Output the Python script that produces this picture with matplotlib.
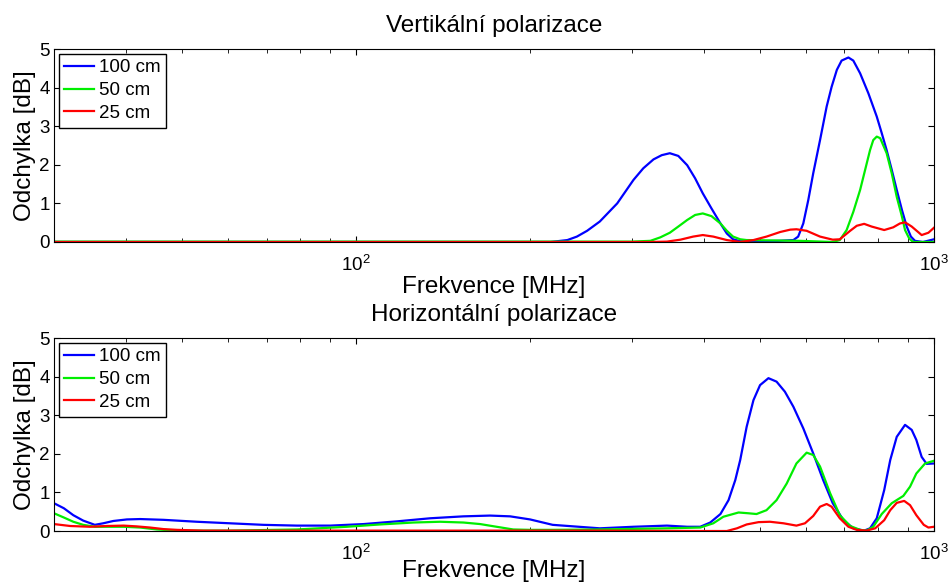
import numpy as np
import matplotlib
matplotlib.use('Agg')
import matplotlib.pyplot as plt

plt.rcParams['font.family'] = ['Liberation Sans', 'DejaVu Sans']
plt.rcParams['mathtext.fontset'] = 'custom'
plt.rcParams['mathtext.rm'] = 'Liberation Sans'

labels = ['100 cm', '50 cm', '25 cm']
colors = ['#0000ff', '#00ee00', '#ff0000']

# vertikalni polarizace
v_f_100 = [30, 217, 232, 241, 251, 264, 283, 302, 314, 327, 338, 349, 361, 374, 386, 398, 412, 427, 438, 449, 462,
           500, 540, 571, 582, 594, 606, 618, 635, 652, 665, 679, 692, 711, 725, 745, 770, 796, 812, 828, 845, 862,
           880, 897, 912, 927, 957, 1000]
v_d_100 = [0, 0, 0.05, 0.14, 0.29, 0.53, 1.0, 1.61, 1.91, 2.14, 2.25, 2.30, 2.23, 1.99, 1.65, 1.26, 0.87, 0.48, 0.22,
           0.07, 0.02, 0.02, 0.03, 0.05, 0.14, 0.48, 1.09, 1.78, 2.64, 3.51, 4.02, 4.46, 4.70, 4.78, 4.70, 4.37, 3.85,
           3.25, 2.82, 2.38, 1.87, 1.35, 0.83, 0.40, 0.14, 0.03, 0.0, 0.07]
v_f_50 = [30, 300, 323, 336, 349, 361, 374, 386, 398, 412, 427, 438, 449, 462, 474, 586, 668, 687, 706, 725, 745, 760,
          775, 785, 796, 807, 828, 845, 862, 880, 891, 906, 920, 1000]
v_d_50 = [0.01, 0.01, 0.03, 0.12, 0.24, 0.40, 0.57, 0.70, 0.74, 0.67, 0.48, 0.29, 0.14, 0.07, 0.05, 0.03, 0.0, 0.05,
          0.31, 0.78, 1.35, 1.87, 2.38, 2.64, 2.73, 2.69, 2.30, 1.78, 1.17, 0.66, 0.31, 0.09, 0.0, 0.0]
v_f_25 = [30, 323, 345, 364, 383, 398, 415, 438, 462, 487, 513, 542, 564, 578, 602, 635, 668, 687, 716, 735, 757, 780,
          820, 850, 873, 891, 915, 952, 978, 1000]
v_d_25 = [0, 0, 0.01, 0.06, 0.14, 0.18, 0.14, 0.05, 0, 0.05, 0.14, 0.26, 0.32, 0.33, 0.29, 0.14, 0.06, 0.07, 0.29,
          0.42, 0.47, 0.40, 0.31, 0.38, 0.48, 0.51, 0.40, 0.18, 0.24, 0.37]

# horizontalni polarizace
h_f_100 = [30, 31.2, 32.4, 33.7, 35.3, 36.5, 38.0, 40.1, 42.3, 46.4, 53.0, 60.5, 69.1, 79.0, 90.2, 103, 117.6, 134.3,
           153.3, 170.5, 184.7, 200, 218.8, 264, 302, 345, 374, 394, 410, 427, 441, 453, 462, 474, 487, 500, 517,
           534, 552, 571, 594, 618, 643, 668, 697, 725, 757, 775, 796, 820, 840, 862, 891, 915, 932, 952, 971, 1000]
h_d_100 = [0.72, 0.59, 0.41, 0.27, 0.16, 0.20, 0.26, 0.30, 0.31, 0.29, 0.24, 0.20, 0.16, 0.14, 0.14, 0.18, 0.25, 0.33,
           0.38, 0.40, 0.38, 0.30, 0.16, 0.07, 0.11, 0.14, 0.11, 0.11, 0.22, 0.44, 0.80, 1.32, 1.84, 2.70, 3.39, 3.78,
           3.96, 3.87, 3.61, 3.22, 2.66, 2.01, 1.32, 0.72, 0.28, 0.07, 0.01, 0.07, 0.33, 1.06, 1.84, 2.44, 2.75, 2.62,
           2.36, 1.92, 1.74, 1.75]
h_f_50 = [30, 31.2, 32.4, 33.7, 35.3, 37.5, 39.6, 42.3, 45.2, 49.0, 60.5, 79.0, 96.4, 110, 125.6, 139.8, 153.3, 163.9,
          175, 187, 200, 218.8, 264, 345, 394, 415, 432, 459, 477, 493, 513, 534, 556, 578, 602, 618, 635, 661, 687,
          716, 745, 764, 785, 812, 845, 885, 909, 932, 965, 1000]
h_d_50 = [0.46, 0.35, 0.24, 0.16, 0.11, 0.11, 0.11, 0.09, 0.04, 0.01, 0.01, 0.04, 0.11, 0.17, 0.22, 0.24, 0.22, 0.18,
          0.11, 0.04, 0.03, 0.03, 0.04, 0.07, 0.09, 0.20, 0.37, 0.48, 0.46, 0.44, 0.54, 0.80, 1.23, 1.75, 2.03, 1.97,
          1.67, 0.98, 0.41, 0.13, 0.03, 0.01, 0.11, 0.44, 0.72, 0.91, 1.15, 1.49, 1.75, 1.82]
h_f_25 = [30, 32.0, 34.6, 37.0, 39.6, 41.7, 44.0, 46.4, 49.0, 54.4, 264, 394, 438, 456, 474, 497, 520, 549, 578, 598,
          618, 635, 652, 665, 687, 711, 735, 764, 791, 820, 840, 862, 888, 909, 932, 960, 978, 1000]
h_d_25 = [0.18, 0.13, 0.11, 0.13, 0.14, 0.12, 0.09, 0.05, 0.03, 0.01, 0.01, 0, 0, 0.07, 0.17, 0.23, 0.24, 0.20, 0.14,
          0.20, 0.39, 0.63, 0.70, 0.63, 0.33, 0.11, 0.03, 0.01, 0.07, 0.28, 0.54, 0.73, 0.78, 0.67, 0.41, 0.16, 0.09,
          0.11]

fig = plt.figure(figsize=(9.49, 5.82), dpi=100)
ax1 = fig.add_axes([0.0569, 0.5842, 0.9273, 0.3316])
ax2 = fig.add_axes([0.0569, 0.0876, 0.9273, 0.3316])

panels = [
    (ax1, 'Vertikální polarizace', [(v_f_100, v_d_100), (v_f_50, v_d_50), (v_f_25, v_d_25)], 1),
    (ax2, 'Horizontální polarizace', [(h_f_100, h_d_100), (h_f_50, h_d_50), (h_f_25, h_d_25)], -2.5),
]

for ax, title, series, xpad in panels:
    for (f, d), c, lab in zip(series, colors, labels):
        ax.plot(f, d, color=c, lw=1.6, label=lab, solid_joinstyle='round')
    ax.set_xscale('log')
    ax.set_xlim(30, 1000)
    ax.set_ylim(0, 5)
    ax.set_yticks([0, 1, 2, 3, 4, 5])
    ax.tick_params(which='both', direction='in', top=True, right=True, labelsize=13.5, pad=3)
    ax.tick_params(axis='x', which='both', pad=9)
    ax.tick_params(which='major', length=4)
    ax.tick_params(which='minor', length=3)
    ax.set_title(title, fontsize=17.5, pad=12)
    ax.set_xlabel('Frekvence [MHz]', fontsize=17.5, labelpad=xpad)
    ax.set_ylabel('Odchylka [dB]', fontsize=17.5, labelpad=2.5)
    leg = ax.legend(loc='upper left', fontsize=13.5, fancybox=False, framealpha=1,
                    edgecolor='black', handlelength=1.6, handletextpad=0.25,
                    labelspacing=0.3, borderpad=0.3, borderaxespad=0.25)
    leg.get_frame().set_linewidth(1.0)

plt.savefig('out.png', dpi=100)
